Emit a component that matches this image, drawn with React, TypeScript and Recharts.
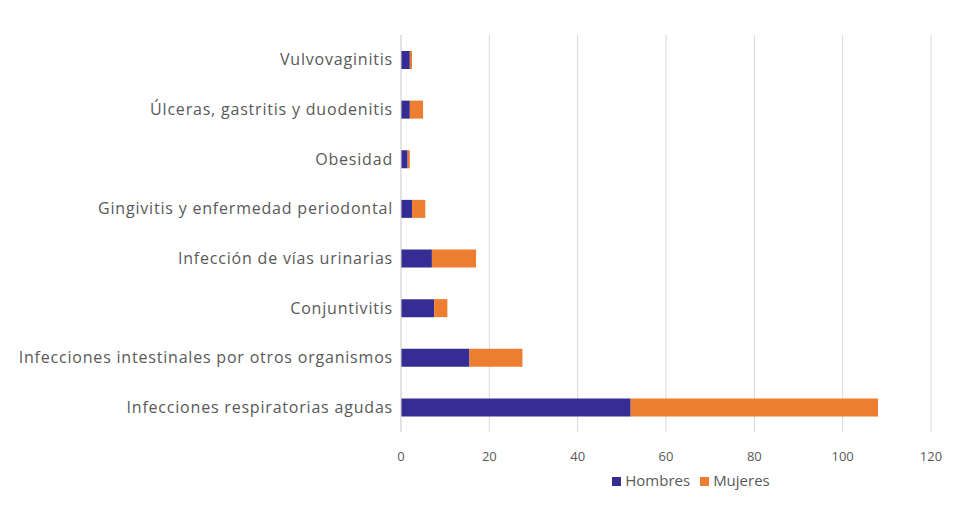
import { Bar, BarChart, CartesianGrid, Legend, XAxis, YAxis } from "recharts";

const categories = [
  "Vulvovaginitis",
  "Úlceras, gastritis y duodenitis",
  "Obesidad",
  "Gingivitis y enfermedad periodontal",
  "Infección de vías urinarias",
  "Conjuntivitis",
  "Infecciones intestinales por otros organismos",
  "Infecciones respiratorias agudas",
];
const hombres = [2, 2, 1.5, 2.5, 7, 7.5, 15.5, 52];
const mujeres = [0.5, 3, 0.5, 3, 10, 3, 12, 56];
const xTicks = [0, 20, 40, 60, 80, 100, 120];

const data = categories.map((name, i) => ({
  name,
  hombres: hombres[i],
  mujeres: mujeres[i],
}));

const legendText = (value: string) => <span style={{ color: "#595959" }}>{value}</span>;

export default function App() {
  return (
    <div style={{ fontFamily: "'Open Sans', sans-serif" }}>
      <BarChart
        width={950}
        height={490}
        layout="vertical"
        data={data}
        margin={{ top: 27, right: 27, bottom: 8, left: 0 }}
      >
        <CartesianGrid horizontal={false} stroke="#d9d9d9" />
        <XAxis
          type="number"
          domain={[0, 120]}
          ticks={xTicks}
          axisLine={false}
          tickLine={false}
          tickMargin={14}
          tick={{ fill: "#595959", fontSize: 13 }}
          height={38}
        />
        <YAxis
          type="category"
          dataKey="name"
          width={393}
          axisLine={{ stroke: "#d9d9d9" }}
          tickLine={false}
          tick={{ fill: "#595959", fontSize: 16, letterSpacing: 0.8 }}
        />
        <Legend
          verticalAlign="bottom"
          align="center"
          iconType="square"
          iconSize={9}
          formatter={legendText}
          wrapperStyle={{ fontSize: 15, left: 588, width: 200 }}
        />
        <Bar dataKey="hombres" name="Hombres" stackId="a" fill="#352D93" barSize={18} isAnimationActive={false} />
        <Bar dataKey="mujeres" name="Mujeres" stackId="a" fill="#ED7D31" barSize={18} isAnimationActive={false} />
      </BarChart>
    </div>
  );
}
